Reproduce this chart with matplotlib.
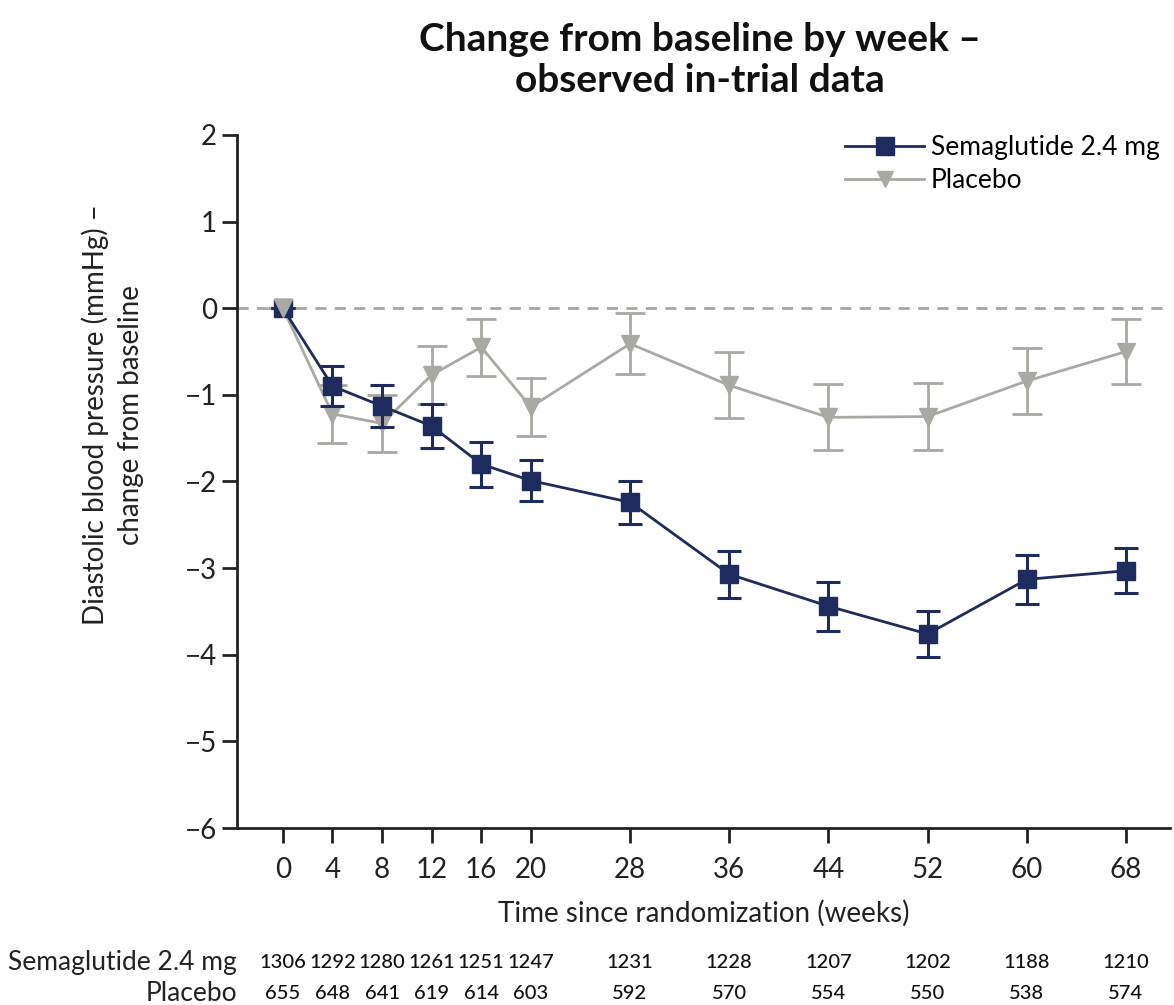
import matplotlib.pyplot as plt
from matplotlib import transforms
from matplotlib.lines import Line2D

plt.rcParams['font.family'] = ['Lato', 'DejaVu Sans']

weeks = [0, 4, 8, 12, 16, 20, 28, 36, 44, 52, 60, 68]
sema = [0, -0.90, -1.13, -1.36, -1.80, -1.99, -2.24, -3.07, -3.44, -3.76, -3.13, -3.03]
sema_err = [0, 0.23, 0.24, 0.25, 0.26, 0.24, 0.25, 0.27, 0.28, 0.27, 0.28, 0.26]
plac = [0, -1.22, -1.33, -0.77, -0.45, -1.14, -0.41, -0.89, -1.26, -1.25, -0.84, -0.50]
plac_err = [0, 0.33, 0.33, 0.33, 0.33, 0.33, 0.35, 0.38, 0.38, 0.39, 0.38, 0.37]
n_sema = [1306, 1292, 1280, 1261, 1251, 1247, 1231, 1228, 1207, 1202, 1188, 1210]
n_plac = [655, 648, 641, 619, 614, 603, 592, 570, 554, 550, 538, 574]

navy = '#1e2b5e'
grey = '#a9a9a4'
txt = '#222222'

fig = plt.figure(figsize=(11.74, 10.05), dpi=100)
ax = fig.add_axes([0.2019, 0.1761, 0.7947, 0.6896])

ax.axhline(0, color='#a6a6a6', ls=(0, (4, 3)), lw=2, zorder=1)

ax.errorbar(weeks, plac, yerr=plac_err, color=grey, marker='v', ms=13,
            lw=2, elinewidth=2, capsize=11, capthick=2, zorder=2)
ax.errorbar(weeks, sema, yerr=sema_err, color=navy, marker='s', ms=13,
            lw=2, elinewidth=2.2, capsize=8.5, capthick=2.2, zorder=3)
# placebo baseline marker on top, as in original
ax.plot(weeks[:1], plac[:1], marker='v', ms=13, color=grey, ls='none', zorder=4)

ax.set_xlim(-3.7, 71.55)
ax.set_ylim(-6, 2)
ax.set_xticks(weeks)
ax.set_yticks(range(-6, 3))
ax.set_yticklabels([str(v).replace('-', '\u2212') for v in range(-6, 3)])
ax.tick_params(axis='both', labelsize=20, width=2, length=11, color=txt, labelcolor=txt)
ax.tick_params(axis='x', pad=10)
for s in ['top', 'right']:
    ax.spines[s].set_visible(False)
for s in ['left', 'bottom']:
    ax.spines[s].set_linewidth(2)
    ax.spines[s].set_color(txt)

ax.set_xlabel('Time since randomization (weeks)', fontsize=20, color=txt, labelpad=12)
fig.text(0.096, 1 - 415 / 1005, 'Diastolic blood pressure (mmHg) \u2013\nchange from baseline',
         rotation=90, ha='center', va='center', fontsize=20, color=txt,
         multialignment='center', linespacing=1.4)

fig.text(700 / 1174, 1 - 60 / 1005, 'Change from baseline by week \u2013\nobserved in-trial data',
         ha='center', va='center', fontsize=28, fontweight='bold', color='#111111',
         linespacing=1.2)

handles = [Line2D([], [], color=navy, marker='s', ms=13, lw=2),
           Line2D([], [], color=grey, marker='v', ms=12, lw=2)]
ax.legend(handles, ['Semaglutide 2.4 mg', 'Placebo'], loc='upper right',
          bbox_to_anchor=(1.0, 1.015), frameon=False, fontsize=19, handlelength=3.0,
          handletextpad=0.25, labelspacing=0.3, borderaxespad=0)

trans = transforms.blended_transform_factory(ax.transData, fig.transFigure)
for w, a, b in zip(weeks, n_sema, n_plac):
    ax.text(w, 1 - 962 / 1005, str(a), transform=trans, ha='center', va='center',
            fontsize=14.5, color='#111111', fontweight='medium')
    ax.text(w, 1 - 993 / 1005, str(b), transform=trans, ha='center', va='center',
            fontsize=14.5, color='#111111', fontweight='medium')
fig.text(237 / 1174, 1 - 962 / 1005, 'Semaglutide 2.4 mg', ha='right', va='center',
         fontsize=19, color=txt)
fig.text(237 / 1174, 1 - 993 / 1005, 'Placebo', ha='right', va='center',
         fontsize=19, color=txt)

fig.savefig('out.png', dpi=100)
